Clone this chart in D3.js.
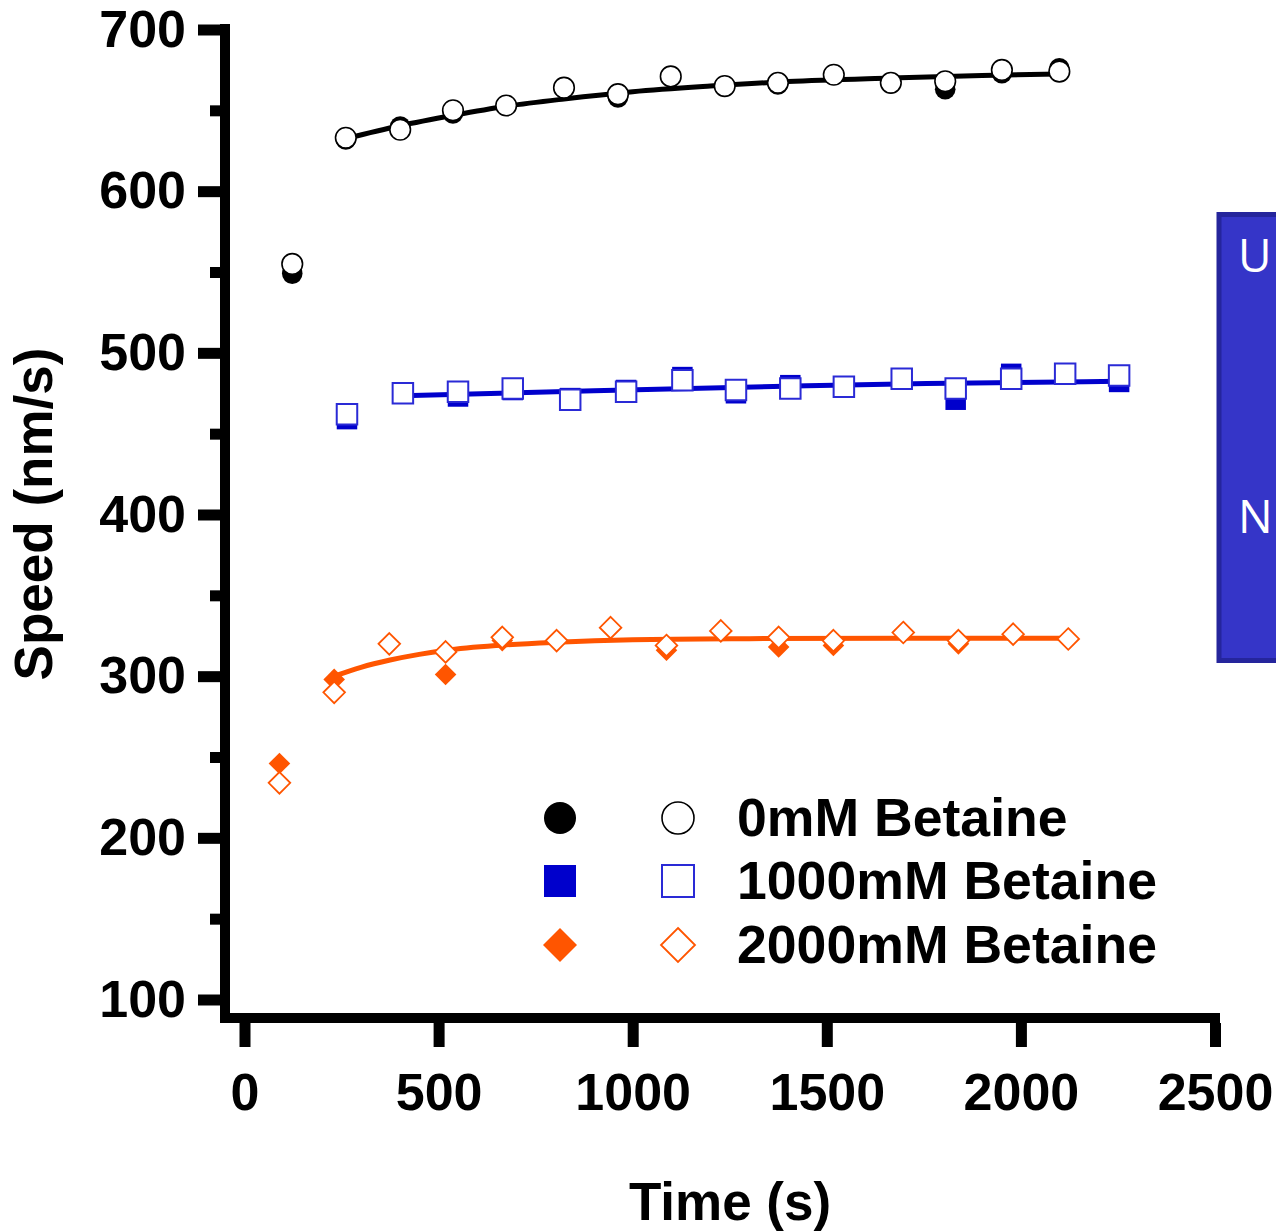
<!DOCTYPE html>
<html>
<head>
<meta charset="utf-8">
<script src="https://cdn.jsdelivr.net/npm/d3@7"></script>
<style>
  html, body { margin: 0; padding: 0; background: #fff; overflow: hidden; }
  svg { display: block; }
</style>
</head>
<body>
<svg id="chart" width="1276" height="1231"></svg>
<script>
// ---- data: motor speed over time at three betaine concentrations ----
const seriesNames = ["0mM Betaine", "1000mM Betaine", "2000mM Betaine"];

// time points (s) shared by the filled and open replicate of each group
const time0    = [123, 261, 401, 537, 674, 823, 962, 1098, 1237, 1374, 1518, 1665, 1805, 1951, 2099];
const filled0  = [549, 632, 640, 648, 653, 664, 658, 671, 665, 666, 672, 667, 663, 673, 676];
const open0    = [555, 633, 638, 650, 653, 664, 660, 671, 665, 667, 672, 667, 668, 675, 674];

const time1000   = [264, 408, 550, 691, 839, 983, 1128, 1266, 1406, 1544, 1693, 1832, 1975, 2114, 2253];
const filled1000 = [459, 475, 473, 477, 472, 477, 485, 475, 480, 479, 484, 471, 487, 487, 482];
const open1000   = [462, 475, 476, 478, 471, 476, 483, 477, 478, 479, 484, 478, 484, 487, 486];

const time2000   = [90, 231, 373, 518, 664, 804, 943, 1087, 1227, 1376, 1517, 1697, 1839, 1980, 2122];
const filled2000 = [246, 298, 320, 301, 322, 322, 330, 316, 328, 318, 319, 327, 320, 326, 323];
const open2000   = [234, 290, 320, 315, 324, 322, 330, 319, 328, 324, 322, 327, 322, 326, 323];

// fitted curves (time, speed)
const fitTime0     = [261, 400, 540, 675, 823, 1000, 1200, 1400, 1665, 1900, 2099];
const fitSpeed0    = [632.5, 640.5, 647, 652.5, 657, 661.5, 665, 667.8, 670, 671.6, 672.5];
const fitTime1000  = [407, 900, 1448, 1757, 2253];
const fitSpeed1000 = [473.5, 476.5, 479.7, 481, 482.4];
const fitTime2000  = [231, 300, 375, 450, 518, 650, 804, 1000, 1300, 1700, 2122];
const fitSpeed2000 = [300, 305.5, 310, 313.5, 316, 319, 321, 322.5, 323.2, 323.5, 323.5];

// axis ticks
const xTicks = [0, 500, 1000, 1500, 2000, 2500];
const yTicks = [100, 200, 300, 400, 500, 600, 700];
const yMinorTicks = [150, 250, 350, 450, 550, 650];

// ---- drawing ----
const svg = d3.select("#chart");
const FONT = "'Liberation Sans', Arial, Helvetica, sans-serif";

const x = d3.scaleLinear().domain([0, 2500]).range([244.5, 1215]);
const y = d3.scaleLinear().domain([100, 700]).range([999.5, 29.5]);

const BLACK = "#000000", BLUE = "#0000CC", ORANGE = "#FF5500";

// diamond = square turned 45 degrees
const diamondType = {
  draw(ctx, size) {
    const r = Math.sqrt(size / 2);
    ctx.moveTo(0, -r); ctx.lineTo(r, 0); ctx.lineTo(0, r); ctx.lineTo(-r, 0); ctx.closePath();
  }
};

const groups = [
  { name: seriesNames[0], t: time0, f: filled0, o: open0, ft: fitTime0, fv: fitSpeed0, color: BLACK,
    type: d3.symbolCircle, size: Math.PI * 10.3 * 10.3, legSize: Math.PI * 16 * 16, openStroke: "#000", sw: 1.6 },
  { name: seriesNames[1], t: time1000, f: filled1000, o: open1000, ft: fitTime1000, fv: fitSpeed1000, color: BLUE,
    type: d3.symbolSquare, size: 20.5 * 20.5, legSize: 32 * 32, openStroke: "#2a2ad6", sw: 2 },
  { name: seriesNames[2], t: time2000, f: filled2000, o: open2000, ft: fitTime2000, fv: fitSpeed2000, color: ORANGE,
    type: diamondType, size: 2 * 10.8 * 10.8, legSize: 2 * 17 * 17, openStroke: ORANGE, sw: 1.8 }
];

const fmt = d3.format("d");

// axes
const yAxisG = svg.append("g").attr("transform", "translate(220,0)")
  .call(d3.axisLeft(y).tickValues(yTicks).tickFormat(fmt).tickSize(22).tickPadding(12).tickSizeOuter(0));
const yMinorG = svg.append("g").attr("transform", "translate(220,0)")
  .call(d3.axisLeft(y).tickValues(yMinorTicks).tickSize(10).tickFormat("").tickSizeOuter(0));
const xAxisG = svg.append("g").attr("transform", "translate(0,1023)")
  .call(d3.axisBottom(x).tickValues(xTicks).tickFormat(fmt).tickSize(24).tickPadding(26).tickSizeOuter(0));

[yAxisG, yMinorG, xAxisG].forEach(g => {
  g.select(".domain").remove();
  g.selectAll(".tick line").attr("stroke", "#000").attr("stroke-width", 11);
  g.selectAll(".tick text").attr("fill", "#000")
    .style("font-family", FONT).style("font-weight", "bold").style("font-size", "52px");
});

// spines
svg.append("line").attr("x1", 225).attr("x2", 225).attr("y1", 24).attr("y2", 1023)
  .attr("stroke", "#000").attr("stroke-width", 10);
svg.append("line").attr("x1", 220).attr("x2", 1220).attr("y1", 1018).attr("y2", 1018)
  .attr("stroke", "#000").attr("stroke-width", 10);

// axis titles
svg.append("text").attr("x", 730).attr("y", 1220).attr("text-anchor", "middle")
  .style("font-family", FONT).style("font-weight", "bold").style("font-size", "53px")
  .text("Time (s)");
svg.append("text").attr("transform", "translate(52,514) rotate(-90)").attr("text-anchor", "middle")
  .style("font-family", FONT).style("font-weight", "bold").style("font-size", "53px")
  .text("Speed (nm/s)");

const line = d3.line().x(d => x(d[0])).y(d => y(d[1])).curve(d3.curveMonotoneX);

groups.forEach(g => {
  const layer = svg.append("g");
  // filled replicate
  layer.selectAll("path.filled").data(d3.zip(g.t, g.f)).join("path")
    .attr("class", "filled")
    .attr("transform", d => `translate(${x(d[0])},${y(d[1])})`)
    .attr("d", d3.symbol().type(g.type).size(g.size))
    .attr("fill", g.color);
  // fitted curve
  layer.append("path").datum(d3.zip(g.ft, g.fv))
    .attr("d", line).attr("fill", "none").attr("stroke", g.color).attr("stroke-width", 5);
  // open replicate
  layer.selectAll("path.open").data(d3.zip(g.t, g.o)).join("path")
    .attr("class", "open")
    .attr("transform", d => `translate(${x(d[0])},${y(d[1])})`)
    .attr("d", d3.symbol().type(g.type).size(g.size))
    .attr("fill", "#fff").attr("stroke", g.openStroke).attr("stroke-width", g.sw);
});

// legend
const legendY = [818, 881, 945];
groups.forEach((g, i) => {
  const ly = legendY[i];
  svg.append("path").attr("transform", `translate(560,${ly})`)
    .attr("d", d3.symbol().type(g.type).size(g.legSize)).attr("fill", g.color);
  svg.append("path").attr("transform", `translate(678,${ly})`)
    .attr("d", d3.symbol().type(g.type).size(g.legSize))
    .attr("fill", "#fff").attr("stroke", g.openStroke).attr("stroke-width", g.sw);
  svg.append("text").attr("x", 737).attr("y", ly + 18)
    .style("font-family", FONT).style("font-weight", "bold").style("font-size", "53.6px")
    .text(g.name);
});

// side panel at the right edge
svg.append("rect").attr("x", 1219).attr("y", 214.5).attr("width", 80).attr("height", 446)
  .attr("fill", "#3535C8").attr("stroke", "#25259C").attr("stroke-width", 5);
svg.append("text").attr("x", 1238).attr("y", 272).attr("fill", "#fff")
  .style("font-family", "'Open Sans', 'Noto Sans', sans-serif").style("font-size", "46px").text("U");
svg.append("text").attr("x", 1238).attr("y", 533).attr("fill", "#fff")
  .style("font-family", "'Open Sans', 'Noto Sans', sans-serif").style("font-size", "46px").text("N");
</script>
</body>
</html>
